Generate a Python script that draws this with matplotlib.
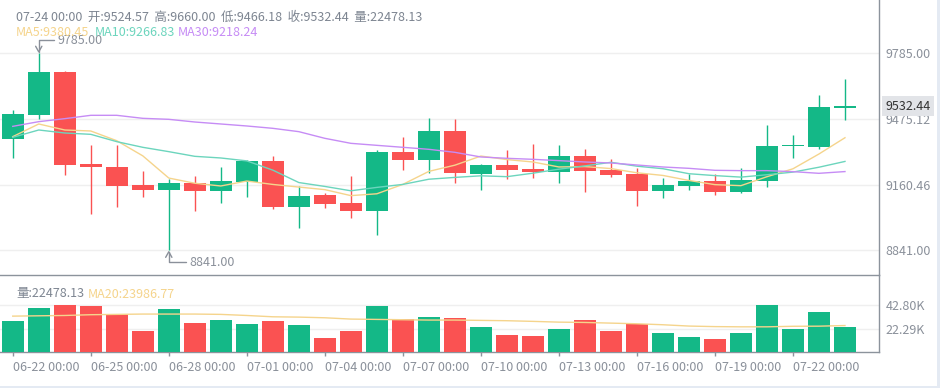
import matplotlib
matplotlib.use('Agg')
import matplotlib.pyplot as plt
import matplotlib.transforms as mtransforms
from matplotlib.patches import Rectangle
import numpy as np
import pandas as pd

# daily candles, 06-22 .. 07-24
dates = pd.date_range('2020-06-22', periods=33, freq='D')
opens = [9374.4, 9491.0, 9695.4, 9254.6, 9240.2, 9154.0, 9131.6, 9163.6, 9126.9, 9170.0,
         9269.0, 9050.2, 9106.1, 9067.8, 9031.0, 9312.1, 9275.4, 9412.7, 9208.3, 9249.8,
         9230.7, 9217.9, 9293.0, 9225.9, 9208.3, 9126.9, 9150.8, 9173.2, 9122.1, 9174.8,
         9340.9, 9337.7, 9524.57]
closes = [9494.2, 9695.4, 9251.4, 9238.6, 9150.8, 9131.6, 9163.6, 9126.9, 9173.2, 9269.0,
          9050.2, 9101.3, 9064.6, 9031.0, 9312.1, 9275.4, 9412.7, 9213.1, 9249.8, 9227.5,
          9217.9, 9293.0, 9222.7, 9201.9, 9126.9, 9154.0, 9173.2, 9122.1, 9178.0, 9340.9,
          9344.0, 9527.7, 9532.44]
highs = [9511.7, 9785.0, 9700.2, 9344.0, 9344.0, 9221.1, 9181.2, 9197.1, 9240.2, 9272.0,
         9293.0, 9150.8, 9114.1, 9197.1, 9321.7, 9382.4, 9473.4, 9468.6, 9254.6, 9321.7,
         9348.8, 9344.0, 9326.5, 9278.6, 9237.0, 9187.5, 9205.1, 9205.1, 9235.5, 9439.9,
         9392.0, 9585.2, 9660.0]
lows = [9281.8, 9471.8, 9200.3, 9013.5, 9047.0, 9094.9, 8841.0, 9027.9, 9066.2, 9095.0,
        9037.5, 8946.4, 9042.2, 8994.3, 8912.9, 9224.3, 9209.9, 9162.0, 9128.4, 9181.2,
        9187.5, 9162.0, 9118.9, 9190.7, 9053.4, 9090.1, 9128.4, 9104.5, 9117.3, 9146.0,
        9281.8, 9328.1, 9466.18]
volumes = [28100, 40000, 42800, 41800, 34200, 18900, 39000, 26200, 29000, 25300,
           28100, 24400, 12500, 18900, 41800, 29600, 31700, 30800, 22600, 15300,
           14300, 20700, 29000, 18900, 25300, 17100, 13400, 11600, 17100, 42700,
           20700, 36300, 22478.13]

ma5 = [9385.6, 9446.3, 9417.5, 9412.7, 9366.1, 9293.6, 9187.2, 9162.3, 9149.2, 9172.9,
       9156.6, 9144.1, 9131.7, 9103.0, 9111.8, 9156.9, 9219.2, 9248.9, 9292.6, 9275.7,
       9264.2, 9240.3, 9242.2, 9232.6, 9212.5, 9199.7, 9175.7, 9155.6, 9150.8, 9193.6,
       9231.6, 9302.5, 9380.45]
ma10 = [9382.4, 9417.5, 9403.1, 9396.7, 9361.6, 9334.5, 9313.7, 9291.3, 9283.4, 9269.5,
        9225.1, 9165.7, 9147.0, 9126.2, 9142.4, 9156.7, 9181.6, 9190.3, 9197.9, 9193.8,
        9210.5, 9229.7, 9245.5, 9262.6, 9244.1, 9232.0, 9208.0, 9198.9, 9191.7, 9203.1,
        9215.7, 9239.1, 9266.83]
ma30 = [9435.0, 9457.4, 9471.8, 9487.8, 9487.8, 9473.4, 9468.6, 9455.8, 9446.3, 9436.7,
        9425.5, 9409.5, 9377.6, 9353.6, 9344.0, 9334.5, 9324.9, 9310.5, 9288.2, 9281.8,
        9277.0, 9270.6, 9264.2, 9259.4, 9249.8, 9240.2, 9233.8, 9224.3, 9222.7, 9222.7,
        9217.9, 9209.9, 9218.24]
vol_ma20 = [32600, 32900, 33200, 33900, 34200, 34500, 34500, 34500, 34200, 33200,
            32000, 31700, 31100, 29900, 29600, 29300, 29000, 29000, 28700, 28400,
            27800, 27100, 26800, 26200, 25600, 24700, 23500, 23000, 22800, 22800,
            23300, 23400, 23986.77]

price_labels = ['8841.00', '9160.46', '9475.12', '9785.00']
vol_labels = ['22.29K', '42.80K']

UP = '#14b887'
DOWN = '#fa5252'
C5, C10, C30 = '#f5d48c', '#6cd5bd', '#c68cf5'
GRAY = '#8a909a'
AXIS = '#8c939c'
GRID = '#efefef'

plt.rcParams['font.family'] = ['Noto Sans CJK SC', 'DejaVu Sans']

W, H = 940, 388
fig = plt.figure(figsize=(W / 100, H / 100), dpi=100)
fig.patch.set_facecolor('white')

right = 879.3
main_bot = 275.3
vol_bot = 351.7
ax = fig.add_axes([0, 1 - main_bot / H, right / W, main_bot / H])
axv = fig.add_axes([0, 1 - vol_bot / H, right / W, (vol_bot - main_bot) / H], sharex=ax)

x = np.arange(len(dates))
o = np.array(opens)
c = np.array(closes)
colors = [UP if cc >= oo else DOWN for oo, cc in zip(o, c)]
bw = 0.846

# candles
ax.vlines(x, lows, highs, colors=colors, lw=1, zorder=2)
body = np.where(np.abs(c - o) < 4, 4, c - o)
ax.bar(x, body, bottom=o, width=bw, color=colors, zorder=3, linewidth=0)

ax.plot(x, ma5, color=C5, lw=1, zorder=4)
ax.plot(x, ma10, color=C10, lw=1, zorder=4)
ax.plot(x, ma30, color=C30, lw=1, zorder=4)

lo, hi = min(lows), max(highs)
ax.set_ylim(8721.2, 10040.4)
ax.set_xlim(-0.49, 33.32)
ax.set_yticks(np.linspace(lo, hi, 4))
ax.set_yticklabels(price_labels)
ax.yaxis.tick_right()
ax.tick_params(axis='y', length=0, pad=4.3, labelsize=9, labelcolor=GRAY)
ax.tick_params(axis='x', length=0, labelbottom=False)
ax.grid(axis='y', color=GRID, lw=1)
ax.set_axisbelow(True)
for s in ['top', 'left']:
    ax.spines[s].set_visible(False)
for s in ['bottom', 'right']:
    ax.spines[s].set_color(AXIS)
    ax.spines[s].set_linewidth(1)

# max / min markers
hi_i = int(np.argmax(highs))
lo_i = int(np.argmin(lows))
arrow = dict(arrowstyle='->,head_length=0.45,head_width=0.25', color=GRAY, lw=1,
             connectionstyle='angle,angleA=0,angleB=90,rad=0', shrinkA=1, shrinkB=0,
             relpos=(0, 0.5))
ax.annotate(f'{hi:.2f}', xy=(hi_i, hi), xytext=(19, 13), textcoords='offset pixels',
            ha='left', va='center', fontsize=9, color=GRAY, arrowprops=arrow, zorder=6)
ax.annotate(f'{lo:.2f}', xy=(lo_i, lo), xytext=(21, -12), textcoords='offset pixels',
            ha='left', va='center', fontsize=9, color=GRAY, arrowprops=arrow, zorder=6)

# last price tag
trans = mtransforms.blended_transform_factory(ax.transAxes, ax.transData)
ax.text(1 + 6 / right, closes[-1], f'{closes[-1]:.2f}', transform=trans, ha='left',
        va='center', fontsize=9, color='#333333', zorder=7, clip_on=False,
        bbox=dict(boxstyle='square,pad=0.3', fc='#e2e4e8', ec='none'))

# volume panel
axv.bar(x, volumes, width=bw, color=colors, linewidth=0, zorder=3)
axv.plot(x, vol_ma20, color=C5, lw=1, zorder=4)
axv.set_ylim(0, 70030)
axv.set_yticks([20530, 42800])
axv.set_yticklabels(vol_labels)
axv.yaxis.tick_right()
axv.tick_params(axis='y', length=0, pad=4.3, labelsize=9, labelcolor=GRAY)
axv.grid(axis='y', color=GRID, lw=1)
axv.set_axisbelow(True)
axv.set_facecolor('none')
ticks = x[::3]
axv.set_xticks(ticks)
axv.set_xticklabels([d.strftime('%m-%d 00:00') for d in dates[::3]], ha='left')
axv.tick_params(axis='x', length=3, width=1, color=AXIS, pad=4, labelsize=9, labelcolor=GRAY)
for s in ['top', 'left']:
    axv.spines[s].set_visible(False)
for s in ['bottom', 'right']:
    axv.spines[s].set_color(AXIS)
    axv.spines[s].set_linewidth(1)

# header texts
last = len(dates) - 1
header = (f"{dates[last].strftime('%m-%d 00:00')}  开:{opens[last]:.2f}  高:{highs[last]:.2f}  "
          f"低:{lows[last]:.2f}  收:{closes[last]:.2f}  量:{volumes[last]:.2f}")
fig.text(16 / W, 1 - 17 / H, header, ha='left', va='center', fontsize=9, color='#7d8591')
fig.text(16 / W, 1 - 33 / H, f'MA5:{ma5[last]:.2f}', ha='left', va='center', fontsize=9, color=C5)
fig.text(95 / W, 1 - 33 / H, f'MA10:{ma10[last]:.2f}', ha='left', va='center', fontsize=9, color=C10)
fig.text(178 / W, 1 - 33 / H, f'MA30:{ma30[last]:.2f}', ha='left', va='center', fontsize=9, color=C30)
fig.text(16 / W, 1 - 294 / H, f'量:{volumes[last]:.2f}', ha='left', va='center', fontsize=9, color='#7d8591')
fig.text(88 / W, 1 - 294 / H, f'MA20:{vol_ma20[last]:.2f}', ha='left', va='center', fontsize=9, color=C5)

# outer frame edges
fig.add_artist(Rectangle((937 / W, 0), 3 / W, 1, transform=fig.transFigure, color='#e4eaf3', lw=0))
fig.add_artist(Rectangle((0, 0), 1, 2.5 / H, transform=fig.transFigure, color='#e4eaf3', lw=0))

fig.savefig('out.png', dpi=100)
